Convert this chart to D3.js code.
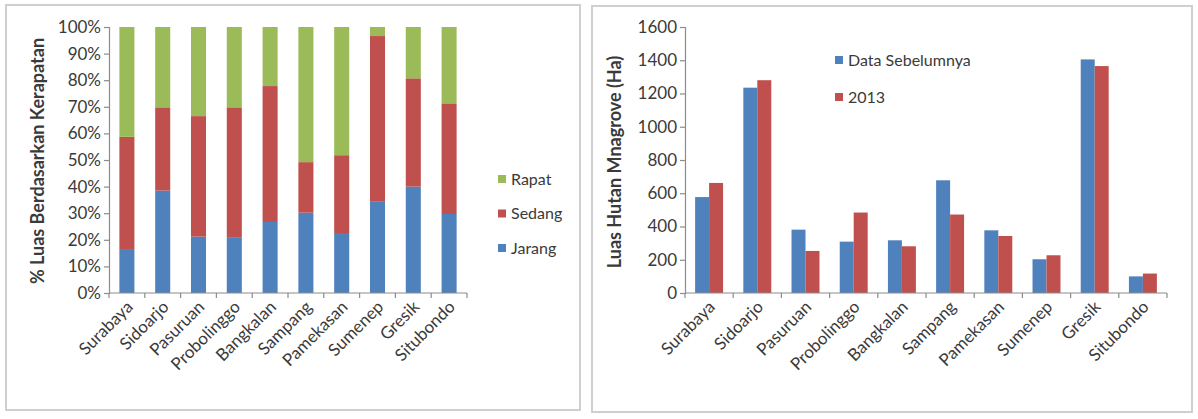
<!DOCTYPE html>
<html>
<head>
<meta charset="utf-8">
<script src="https://cdn.jsdelivr.net/npm/d3@7"></script>
<style>
  html, body { margin: 0; padding: 0; background: #ffffff; }
  svg { display: block; }
  text { font-family: Lato, "Open Sans", sans-serif; fill: #3a3a3a; }
</style>
</head>
<body>
<svg id="chart" width="1198" height="419"></svg>
<script>
// Regencies along the East Java coast
const categories = ["Surabaya", "Sidoarjo", "Pasuruan", "Probolinggo", "Bangkalan",
                    "Sampang", "Pamekasan", "Sumenep", "Gresik", "Situbondo"];

// Share of mangrove area by canopy density (%)
const densityKeys = ["Jarang", "Sedang", "Rapat"];
const jarang = [16.2, 38.5, 21.2, 21.0, 26.7, 30.2, 22.2, 34.3, 40.0, 29.7];
const sedang = [42.5, 31.3, 45.3, 48.8, 51.1, 19.0, 29.6, 62.3, 40.7, 41.6];
const rapat  = [41.3, 30.2, 33.5, 30.2, 22.2, 50.8, 48.2, 3.4, 19.3, 28.7];
const percentTicks = [0, 10, 20, 30, 40, 50, 60, 70, 80, 90, 100];

// Mangrove forest area (Ha)
const areaKeys = ["Data Sebelumnya", "2013"];
const areaBefore = [577, 1235, 381, 309, 317, 678, 377, 203, 1405, 100];
const area2013   = [662, 1280, 253, 484, 281, 472, 343, 227, 1365, 117];
const areaTicks = [0, 200, 400, 600, 800, 1000, 1200, 1400, 1600];

const colors = { blue: "#4f81bd", red: "#c0504d", green: "#9bbb59" };
const axisColor = "#8c8c8c";
const tickFont = 17;

const svg = d3.select("#chart");

// Panel frames
svg.append("rect").attr("x", 6).attr("y", 5).attr("width", 574).attr("height", 405)
  .attr("fill", "#fff").attr("stroke", "#cfcfcf").attr("stroke-width", 2);
svg.append("rect").attr("x", 592).attr("y", 6).attr("width", 600).attr("height", 406)
  .attr("fill", "#fff").attr("stroke", "#cfcfcf").attr("stroke-width", 2);

function styleAxis(g) {
  g.selectAll("path, line").attr("stroke", axisColor).attr("stroke-width", 1.2);
  g.selectAll("text").attr("font-size", tickFont).attr("fill", "#3a3a3a")
    .style("font-family", "Lato, 'Open Sans', sans-serif");
}

function categoryAxis(g, x, y0, x0, x1) {
  // baseline
  g.append("line").attr("x1", x0).attr("x2", x1).attr("y1", y0).attr("y2", y0)
    .attr("stroke", axisColor).attr("stroke-width", 1.2);
  // tick marks between categories
  const step = x.step();
  const first = x(categories[0]) - (step - x.bandwidth()) / 2;
  for (let i = 0; i <= categories.length; i++) {
    const tx = first + i * step;
    g.append("line").attr("x1", tx).attr("x2", tx).attr("y1", y0).attr("y2", y0 + 5)
      .attr("stroke", axisColor).attr("stroke-width", 1.2);
  }
  // rotated category names
  g.selectAll("text.cat").data(categories).join("text")
    .attr("class", "cat")
    .attr("text-anchor", "end")
    .attr("font-size", tickFont)
    .attr("transform", d => `translate(${x(d) + x.bandwidth() / 2 + 7},${y0 + 15}) rotate(-45)`)
    .text(d => d);
}

// ---------- Left: stacked 100% bars ----------
{
  const yL = d3.scaleLinear().domain([0, 100]).range([293, 27]);
  const xL = d3.scaleBand().domain(categories).range([109, 467])
    .paddingInner(0.58).paddingOuter(0.29);
  const rows = categories.map((c, i) => ({ cat: c, Jarang: jarang[i], Sedang: sedang[i], Rapat: rapat[i] }));
  const stack = d3.stack().keys(densityKeys)(rows);
  const fills = { Jarang: colors.blue, Sedang: colors.red, Rapat: colors.green };

  const g = svg.append("g");
  g.selectAll("g.layer").data(stack).join("g")
    .attr("class", "layer")
    .attr("fill", d => fills[d.key])
    .selectAll("rect").data(d => d).join("rect")
      .attr("x", d => xL(d.data.cat))
      .attr("width", xL.bandwidth())
      .attr("y", d => yL(d[1]))
      .attr("height", d => yL(d[0]) - yL(d[1]));

  const ay = g.append("g").attr("transform", "translate(109,0)")
    .call(d3.axisLeft(yL).tickValues(percentTicks).tickSize(5).tickPadding(3)
      .tickFormat(d => d + "%"));
  styleAxis(ay);

  categoryAxis(g, xL, 293, 109, 467);

  g.append("text")
    .attr("transform", "translate(44,161) rotate(-90)")
    .attr("text-anchor", "middle")
    .attr("font-size", 18).attr("font-weight", 700)
    .text("% Luas Berdasarkan Kerapatan");

  // legend (top entry = top layer)
  const legendItems = ["Rapat", "Sedang", "Jarang"];
  const lg = g.append("g");
  legendItems.forEach((k, i) => {
    const cy = 179 + i * 34.5;
    lg.append("rect").attr("x", 498).attr("y", cy - 4).attr("width", 8).attr("height", 8)
      .attr("fill", fills[k]);
    lg.append("text").attr("x", 511).attr("y", cy + 5.5).attr("font-size", 16).text(k);
  });
}

// ---------- Right: grouped bars ----------
{
  const yR = d3.scaleLinear().domain([0, 1600]).range([293, 27]);
  const xR = d3.scaleBand().domain(categories).range([685, 1167])
    .paddingInner(0.42).paddingOuter(0.21);
  const xs = d3.scaleBand().domain(areaKeys).range([0, xR.bandwidth()]);
  const rows = categories.map((c, i) => ({ cat: c, values: [areaBefore[i], area2013[i]] }));
  const fills = [colors.blue, colors.red];

  const g = svg.append("g");
  g.selectAll("g.grp").data(rows).join("g")
    .attr("class", "grp")
    .attr("transform", d => `translate(${xR(d.cat)},0)`)
    .selectAll("rect").data(d => d.values.map((v, j) => ({ key: areaKeys[j], v, j }))).join("rect")
      .attr("x", d => xs(d.key))
      .attr("width", xs.bandwidth())
      .attr("y", d => yR(d.v))
      .attr("height", d => yR(0) - yR(d.v))
      .attr("fill", d => fills[d.j]);

  const ay = g.append("g").attr("transform", "translate(685,0)")
    .call(d3.axisLeft(yR).tickValues(areaTicks).tickSize(5).tickPadding(3)
      .tickFormat(d3.format("d")));
  styleAxis(ay);

  categoryAxis(g, xR, 293, 685, 1167);

  g.append("text")
    .attr("transform", "translate(621,162) rotate(-90)")
    .attr("text-anchor", "middle")
    .attr("font-size", 18).attr("font-weight", 700)
    .text("Luas Hutan Mnagrove (Ha)");

  const lg = g.append("g");
  areaKeys.forEach((k, i) => {
    const cy = 60 + i * 37;
    lg.append("rect").attr("x", 835).attr("y", cy - 4).attr("width", 8).attr("height", 8)
      .attr("fill", fills[i]);
    lg.append("text").attr("x", 848).attr("y", cy + 5.5).attr("font-size", 16).text(k);
  });
}
</script>
</body>
</html>
